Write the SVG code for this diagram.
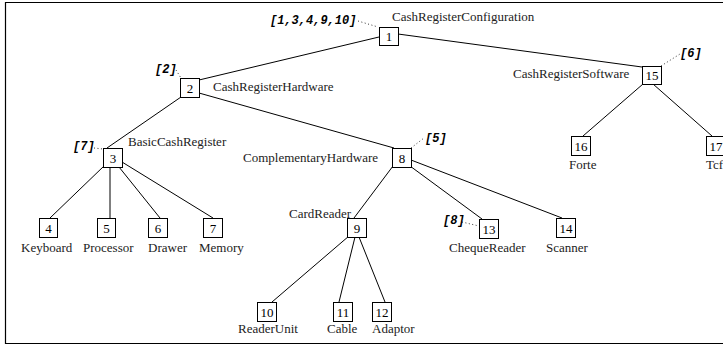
<svg xmlns="http://www.w3.org/2000/svg" width="723" height="346" viewBox="0 0 723 346">
<style>
.box{fill:#fff;stroke:#000;stroke-width:1}
.num{font-family:"Liberation Serif",serif;font-size:13px;text-anchor:middle;fill:#000}
.lbl{font-family:"Liberation Serif",serif;font-size:13px;fill:#222}
.ann{font-family:"Liberation Mono",monospace;font-size:12px;font-weight:bold;font-style:italic;fill:#000}
.edge{stroke:#000;stroke-width:1;fill:none}
.dot{stroke:#000;stroke-width:0.8;stroke-dasharray:1 2.5;fill:none}
</style>
<rect width="723" height="346" fill="#fff"/>
<path d="M723,2.5 H5.5 V343.5 H723" fill="none" stroke="#000" stroke-width="1.2"/>
<g id="connectors">
<line class="edge" x1="379" y1="37" x2="199" y2="80"/>
<line class="edge" x1="398" y1="34" x2="642" y2="67"/>
<line class="edge" x1="181" y1="97" x2="107" y2="148"/>
<line class="edge" x1="199" y1="93" x2="394" y2="148"/>
<line class="edge" x1="104" y1="166" x2="50" y2="218"/>
<line class="edge" x1="110" y1="167" x2="110" y2="218"/>
<line class="edge" x1="119" y1="167" x2="160" y2="218"/>
<line class="edge" x1="122" y1="162" x2="213" y2="218"/>
<line class="edge" x1="393" y1="166" x2="354" y2="218"/>
<line class="edge" x1="410" y1="166" x2="482" y2="219"/>
<line class="edge" x1="411" y1="160" x2="562" y2="218"/>
<line class="edge" x1="349" y1="236" x2="272" y2="302"/>
<line class="edge" x1="355" y1="237" x2="339" y2="302"/>
<line class="edge" x1="359" y1="237" x2="385" y2="302"/>
<line class="edge" x1="643" y1="84" x2="583" y2="136"/>
<line class="edge" x1="653" y1="84" x2="712" y2="136"/>
<line class="dot" x1="358" y1="21" x2="378" y2="27"/>
<line class="dot" x1="176" y1="70" x2="181" y2="78"/>
<line class="dot" x1="94" y1="148" x2="103" y2="149"/>
<line class="dot" x1="411" y1="148" x2="424" y2="138"/>
<line class="dot" x1="661" y1="66" x2="680" y2="54"/>
<line class="dot" x1="462" y1="222" x2="479" y2="226"/>
</g>
<g id="n1"><rect class="box" x="379.5" y="27.5" width="19" height="18"/><text class="num" x="389" y="41">1</text><text class="lbl" x="392" y="21">CashRegisterConfiguration</text><text class="ann" x="270" y="24">[1,3,4,9,10]</text></g>
<g id="n2"><rect class="box" x="180.5" y="78.5" width="19" height="19"/><text class="num" x="190" y="92.5">2</text><text class="lbl" x="213" y="91">CashRegisterHardware</text><text class="ann" x="155" y="73">[2]</text></g>
<g id="n3"><rect class="box" x="103.5" y="148.5" width="19" height="19"/><text class="num" x="113" y="162.5">3</text><text class="lbl" x="128" y="146">BasicCashRegister</text><text class="ann" x="73" y="150">[7]</text></g>
<g id="n4"><rect class="box" x="39.5" y="218.5" width="18" height="19"/><text class="num" x="48.5" y="232.5">4</text><text class="lbl" x="21" y="252">Keyboard</text></g>
<g id="n5"><rect class="box" x="97.5" y="218.5" width="18" height="19"/><text class="num" x="106.5" y="232.5">5</text><text class="lbl" x="83" y="252">Processor</text></g>
<g id="n6"><rect class="box" x="148.5" y="218.5" width="19" height="19"/><text class="num" x="158" y="232.5">6</text><text class="lbl" x="148" y="252">Drawer</text></g>
<g id="n7"><rect class="box" x="203.5" y="218.5" width="19" height="19"/><text class="num" x="213" y="232.5">7</text><text class="lbl" x="199" y="252">Memory</text></g>
<g id="n8"><rect class="box" x="392.5" y="148.5" width="19" height="19"/><text class="num" x="402" y="162.5">8</text><text class="lbl" x="243" y="162">ComplementaryHardware</text><text class="ann" x="425" y="142">[5]</text></g>
<g id="n9"><rect class="box" x="347.5" y="218.5" width="19" height="19"/><text class="num" x="357" y="232.5">9</text><text class="lbl" x="289" y="218">CardReader</text></g>
<g id="n10"><rect class="box" x="257.5" y="302.5" width="19" height="19"/><text class="num" x="267" y="316.5">10</text><text class="lbl" x="238" y="333">ReaderUnit</text></g>
<g id="n11"><rect class="box" x="333.5" y="302.5" width="19" height="19"/><text class="num" x="343" y="316.5">11</text><text class="lbl" x="327" y="333">Cable</text></g>
<g id="n12"><rect class="box" x="372.5" y="302.5" width="19" height="19"/><text class="num" x="382" y="316.5">12</text><text class="lbl" x="372" y="333">Adaptor</text></g>
<g id="n13"><rect class="box" x="479.5" y="219.5" width="19" height="19"/><text class="num" x="489" y="233.5">13</text><text class="lbl" x="449" y="252">ChequeReader</text><text class="ann" x="443" y="224">[8]</text></g>
<g id="n14"><rect class="box" x="556.5" y="218.5" width="19" height="19"/><text class="num" x="566" y="232.5">14</text><text class="lbl" x="546" y="252">Scanner</text></g>
<g id="n15"><rect class="box" x="642.5" y="66.5" width="19" height="18"/><text class="num" x="652" y="80">15</text><text class="lbl" x="513" y="78">CashRegisterSoftware</text><text class="ann" x="680" y="57">[6]</text></g>
<g id="n16"><rect class="box" x="571.5" y="136.5" width="19" height="19"/><text class="num" x="581" y="150.5">16</text><text class="lbl" x="569" y="169">Forte</text></g>
<g id="n17"><rect class="box" x="706.5" y="136.5" width="19" height="19"/><text class="num" x="716" y="150.5">17</text><text class="lbl" x="706" y="169">Tcf</text></g>
</svg>
